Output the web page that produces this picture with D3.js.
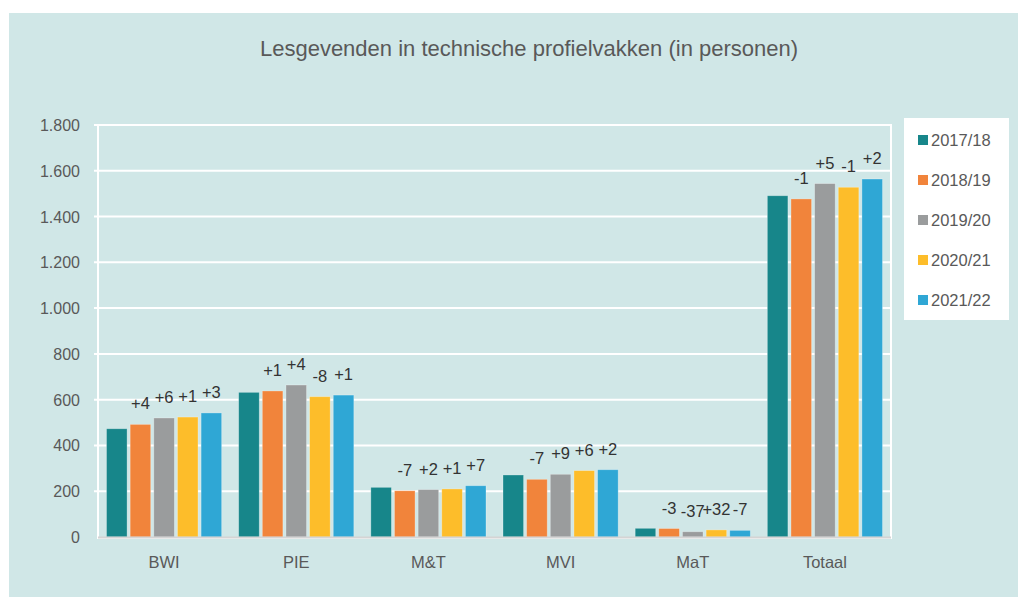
<!DOCTYPE html>
<html>
<head>
<meta charset="utf-8">
<script src="https://cdn.jsdelivr.net/npm/d3@7"></script>
<style>
  body { margin: 0; background: #ffffff; }
  svg { display: block; font-family: "Liberation Sans", Arial, sans-serif; }
</style>
</head>
<body>
<svg id="chart" width="1018" height="597"></svg>
<script>
// data
var categories = ["BWI", "PIE", "M&T", "MVI", "MaT", "Totaal"]
var years = ["2017/18", "2018/19", "2019/20", "2020/21", "2021/22"]
var colors = ["#17868a", "#f1843b", "#9a9c9d", "#fdbd2a", "#2fa7d5"]

var v1718 = [473, 632, 217, 271, 38, 1491]
var v1819 = [492, 638, 202, 252, 37, 1477]
var v1920 = [520, 664, 207, 274, 23, 1544]
var v2021 = [524, 613, 210, 290, 31, 1528]
var v2122 = [542, 620, 224, 294, 29, 1564]

// change labels (percent vs previous year), none for the first year
var d1819 = ["+4", "+1", "-7", "-7", "-3", "-1"]
var d1920 = ["+6", "+4", "+2", "+9", "-37", "+5"]
var d2021 = ["+1", "-8", "+1", "+6", "+32", "-1"]
var d2122 = ["+3", "+1", "+7", "+2", "-7", "+2"]

var yTicks = [0, 200, 400, 600, 800, 1000, 1200, 1400, 1600, 1800]

var series = [v1718, v1819, v1920, v2021, v2122]
var deltas = [null, d1819, d1920, d2021, d2122]

var svg = d3.select("#chart")
var textColor = "#595959"

// panel
svg.append("rect")
    .attr("x", 9).attr("y", 13)
    .attr("width", 1018 - 9).attr("height", 597 - 13)
    .attr("fill", "#d0e7e7")

var plotLeft = 98, plotRight = 891, plotTop = 125, plotBottom = 537

var x0 = d3.scaleBand().domain(categories).range([plotLeft, plotRight]).padding(0)
var x1 = d3.scaleBand().domain(years)
    .range([8.5, x0.bandwidth() - 8.5])
    .paddingInner(0.13)
var y = d3.scaleLinear().domain([0, 1800]).range([plotBottom, plotTop])

// plot frame
svg.append("rect")
    .attr("x", plotLeft).attr("y", plotTop)
    .attr("width", plotRight - plotLeft).attr("height", plotBottom - plotTop + 1)
    .attr("fill", "none")
    .attr("stroke", "#ffffff")
    .attr("stroke-width", 2)

// gridlines
svg.append("g")
    .selectAll("line")
    .data(yTicks.filter(function (d) { return d > 0 }))
    .enter().append("line")
    .attr("x1", plotLeft - 4).attr("x2", plotRight)
    .attr("y1", function (d) { return y(d) }).attr("y2", function (d) { return y(d) })
    .attr("stroke", "#ffffff")
    .attr("stroke-width", 2)

// y tick labels
var fmt = function (d) { return d3.format(",")(d).replace(/,/g, ".") }
svg.append("g")
    .selectAll("text")
    .data(yTicks)
    .enter().append("text")
    .attr("x", 80)
    .attr("y", function (d) { return y(d) + 6 })
    .attr("text-anchor", "end")
    .attr("font-size", 16)
    .attr("fill", textColor)
    .text(fmt)

// bars
var groups = svg.append("g")
    .selectAll("g")
    .data(categories)
    .enter().append("g")
    .attr("transform", function (d) { return "translate(" + x0(d) + ",0)" })

groups.each(function (cat, ci) {
    var g = d3.select(this)
    years.forEach(function (yr, si) {
        var v = series[si][ci]
        g.append("rect")
            .attr("x", x1(yr))
            .attr("y", y(v))
            .attr("width", x1.bandwidth())
            .attr("height", y(0) - y(v))
            .attr("fill", colors[si])
            .attr("stroke", "rgba(255,255,255,0.35)")
            .attr("stroke-width", 0.8)
        if (deltas[si]) {
            g.append("text")
                .attr("x", x1(yr) + x1.bandwidth() / 2)
                .attr("y", y(v) - 15)
                .attr("text-anchor", "middle")
                .attr("font-size", 16.5)
                .attr("fill", "#333333")
                .text(deltas[si][ci])
        }
    })
})

// x axis line
svg.append("line")
    .attr("x1", plotLeft).attr("x2", plotRight)
    .attr("y1", plotBottom + 0.5).attr("y2", plotBottom + 0.5)
    .attr("stroke", "#d4d4d4")
    .attr("stroke-width", 2)

// category labels
svg.append("g")
    .selectAll("text")
    .data(categories)
    .enter().append("text")
    .attr("x", function (d) { return x0(d) + x0.bandwidth() / 2 })
    .attr("y", 568)
    .attr("text-anchor", "middle")
    .attr("font-size", 16.5)
    .attr("fill", textColor)
    .text(function (d) { return d })

// title
svg.append("text")
    .attr("x", 529).attr("y", 56)
    .attr("text-anchor", "middle")
    .attr("font-size", 22)
    .attr("fill", textColor)
    .text("Lesgevenden in technische profielvakken (in personen)")

// legend
var legend = svg.append("g")
legend.append("rect")
    .attr("x", 904).attr("y", 118)
    .attr("width", 105).attr("height", 202)
    .attr("fill", "#ffffff")

var items = legend.selectAll("g")
    .data(years)
    .enter().append("g")
    .attr("transform", function (d, i) { return "translate(918," + (140 + i * 40) + ")" })

items.append("rect")
    .attr("x", 0).attr("y", -5)
    .attr("width", 10).attr("height", 10)
    .attr("fill", function (d, i) { return colors[i] })

items.append("text")
    .attr("x", 13).attr("y", 6)
    .attr("font-size", 16.5)
    .attr("fill", textColor)
    .text(function (d) { return d })
</script>
</body>
</html>
